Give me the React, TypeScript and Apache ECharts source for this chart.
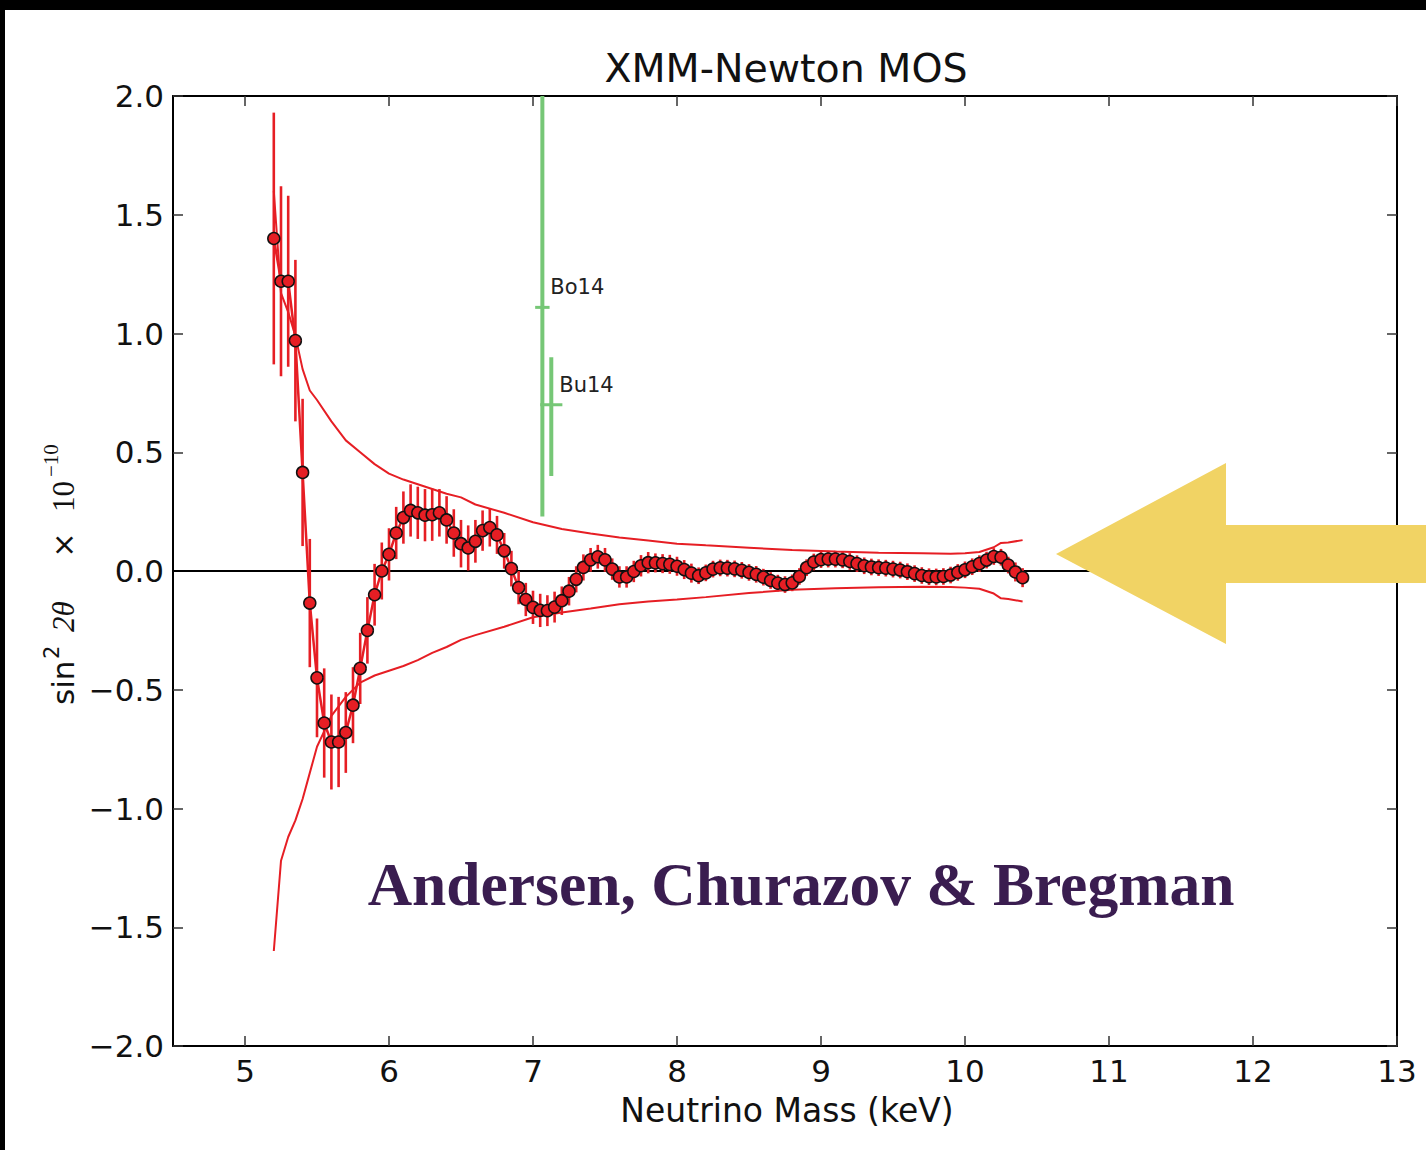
import React, { useEffect, useRef } from 'react';
import * as echarts from 'echarts';

// ---- data ----
const ENERGY = [
  5.20, 5.25, 5.30, 5.35, 5.40, 5.45, 5.50, 5.55, 5.60, 5.65,
  5.70, 5.75, 5.80, 5.85, 5.90, 5.95, 6.00, 6.05, 6.10, 6.15,
  6.20, 6.25, 6.30, 6.35, 6.40, 6.45, 6.50, 6.55, 6.60, 6.65,
  6.70, 6.75, 6.80, 6.85, 6.90, 6.95, 7.00, 7.05, 7.10, 7.15,
  7.20, 7.25, 7.30, 7.35, 7.40, 7.45, 7.50, 7.55, 7.60, 7.65,
  7.70, 7.75, 7.80, 7.85, 7.90, 7.95, 8.00, 8.05, 8.10, 8.15,
  8.20, 8.25, 8.30, 8.35, 8.40, 8.45, 8.50, 8.55, 8.60, 8.65,
  8.70, 8.75, 8.80, 8.85, 8.90, 8.95, 9.00, 9.05, 9.10, 9.15,
  9.20, 9.25, 9.30, 9.35, 9.40, 9.45, 9.50, 9.55, 9.60, 9.65,
  9.70, 9.75, 9.80, 9.85, 9.90, 9.95, 10.00, 10.05, 10.10, 10.15,
  10.20, 10.25, 10.30, 10.35, 10.40,
];
const SIGNAL = [
  1.40, 1.22, 1.22, 0.97, 0.415, -0.135, -0.45, -0.64, -0.72, -0.72,
  -0.68, -0.565, -0.41, -0.25, -0.10, 0.00, 0.07, 0.16, 0.225, 0.255,
  0.245, 0.235, 0.237, 0.245, 0.215, 0.16, 0.115, 0.097, 0.125, 0.17,
  0.183, 0.152, 0.085, 0.01, -0.07, -0.12, -0.153, -0.166, -0.167, -0.152,
  -0.125, -0.085, -0.035, 0.015, 0.047, 0.06, 0.047, 0.008, -0.025, -0.025,
  -0.002, 0.022, 0.035, 0.034, 0.031, 0.028, 0.02, 0.006, -0.009, -0.02,
  -0.008, 0.008, 0.013, 0.012, 0.009, 0.003, -0.006, -0.014, -0.026, -0.04,
  -0.051, -0.057, -0.05, -0.023, 0.014, 0.038, 0.048, 0.05, 0.05, 0.047,
  0.04, 0.031, 0.022, 0.017, 0.014, 0.012, 0.008, 0.004, -0.003, -0.011,
  -0.019, -0.024, -0.025, -0.023, -0.017, -0.006, 0.005, 0.018, 0.031, 0.046,
  0.061, 0.058, 0.025, -0.004, -0.028,
];
const SIGNAL_ERR = [
  0.53, 0.40, 0.36, 0.34, 0.31, 0.27, 0.25, 0.23, 0.20, 0.19,
  0.17, 0.16, 0.15, 0.14, 0.13, 0.12, 0.11, 0.11, 0.11, 0.11,
  0.11, 0.11, 0.11, 0.10, 0.10, 0.10, 0.10, 0.095, 0.09, 0.085,
  0.08, 0.08, 0.075, 0.075, 0.07, 0.07, 0.07, 0.07, 0.065, 0.065,
  0.06, 0.06, 0.055, 0.055, 0.05, 0.05, 0.05, 0.045, 0.045, 0.045,
  0.045, 0.045, 0.045, 0.04, 0.04, 0.04, 0.04, 0.04, 0.04, 0.035,
  0.035, 0.035, 0.035, 0.035, 0.035, 0.035, 0.035, 0.035, 0.035, 0.035,
  0.035, 0.035, 0.035, 0.035, 0.035, 0.035, 0.035, 0.035, 0.035, 0.035,
  0.035, 0.035, 0.035, 0.035, 0.035, 0.035, 0.035, 0.035, 0.035, 0.035,
  0.035, 0.035, 0.035, 0.035, 0.035, 0.035, 0.035, 0.035, 0.035, 0.035,
  0.035, 0.035, 0.035, 0.04, 0.04,
];
const ENV_ENERGY = [
  5.2, 5.25, 5.3, 5.35, 5.4, 5.45, 5.5, 5.6, 5.7, 5.8, 5.9, 6.0, 6.1, 6.2, 6.3, 6.4,
  6.5, 6.6, 6.8, 7.0, 7.2, 7.4, 7.6, 7.8, 8.0, 8.2, 8.5, 8.8, 9.1, 9.4, 9.7, 9.9,
  10.0, 10.1, 10.2, 10.25, 10.3, 10.4,
];
const ENV_UPPER = [
  1.60, 1.17, 1.09, 0.99, 0.85, 0.76, 0.72, 0.63, 0.55, 0.50, 0.45, 0.41, 0.385, 0.365, 0.345, 0.325,
  0.31, 0.28, 0.245, 0.205, 0.177, 0.158, 0.141, 0.128, 0.115, 0.108, 0.098, 0.088, 0.082, 0.077, 0.075, 0.073,
  0.075, 0.08, 0.10, 0.118, 0.12, 0.13,
];
const ENV_LOWER = [
  -1.60, -1.22, -1.12, -1.05, -0.96, -0.85, -0.74, -0.61, -0.53, -0.47, -0.44, -0.42, -0.40, -0.375, -0.345, -0.32,
  -0.29, -0.27, -0.235, -0.195, -0.175, -0.158, -0.14, -0.128, -0.12, -0.11, -0.093, -0.079, -0.073, -0.068, -0.066, -0.067,
  -0.07, -0.075, -0.095, -0.115, -0.118, -0.128,
];
const REF_NAMES = ['Bo14', 'Bu14'];
const REF_X = [7.065, 7.127];
const REF_XERR = [0.05, 0.077];
const REF_Y = [1.11, 0.70];
const REF_YLO = [0.23, 0.40];
const REF_YHI = [2.0, 0.90];

const X_TICKS = [5, 6, 7, 8, 9, 10, 11, 12, 13];
const X_MIN = 4.5;
const X_MAX = 13;
const Y_MIN = -2;
const Y_MAX = 2;
const Y_STEP = 0.5;

const TITLE = 'XMM-Newton MOS';
const X_NAME = 'Neutrino Mass (keV)';
const CREDIT = 'Andersen, Churazov & Bregman';

// ---- styles ----
const RED = '#e61e24';
const GREEN = '#76c776';
const SANS = '"DejaVu Sans", sans-serif';
const SERIF = '"Liberation Serif", serif';

function buildOption(): any {
  const axisBase = {
    type: 'value',
    min: X_MIN,
    max: X_MAX,
    splitLine: { show: false },
    axisLine: { show: true, onZero: false, lineStyle: { color: '#000', width: 2 } },
    axisTick: { show: true, inside: true, length: 10, customValues: X_TICKS, lineStyle: { color: '#333', width: 1.5 } },
  };
  const yBase = {
    type: 'value',
    min: Y_MIN,
    max: Y_MAX,
    interval: Y_STEP,
    splitLine: { show: false },
    axisLine: { show: true, onZero: false, lineStyle: { color: '#000', width: 2 } },
    axisTick: { show: true, inside: true, length: 10, lineStyle: { color: '#333', width: 1.5 } },
  };
  return {
    animation: false,
    backgroundColor: '#ffffff',
    grid: { left: 173, top: 96, width: 1224, height: 950, containLabel: false },
    xAxis: [
      {
        ...axisBase,
        position: 'bottom',
        axisLabel: {
          show: true, customValues: X_TICKS, margin: 9, fontSize: 31, color: '#111', fontFamily: SANS,
        },
      },
      { ...axisBase, position: 'top', axisLabel: { show: false } },
    ],
    yAxis: [
      {
        ...yBase,
        position: 'left',
        axisLabel: {
          show: true, margin: 9, fontSize: 31, color: '#111', fontFamily: SANS,
          formatter: (v: number) => (v < 0 ? '\u2212' : '') + Math.abs(v).toFixed(1),
        },
      },
      { ...yBase, position: 'right', axisLabel: { show: false } },
    ],
    series: [
      {
        type: 'line', name: 'zero', xAxisIndex: 0, yAxisIndex: 0, z: 1, silent: true,
        data: [[X_MIN, 0], [X_MAX, 0]], symbol: 'none',
        lineStyle: { color: '#000', width: 2 },
      },
      {
        type: 'line', name: 'upper', xAxisIndex: 0, yAxisIndex: 0, z: 2, silent: true,
        data: ENV_ENERGY.map((e, i) => [e, ENV_UPPER[i]]), symbol: 'none',
        lineStyle: { color: RED, width: 2 },
      },
      {
        type: 'line', name: 'lower', xAxisIndex: 0, yAxisIndex: 0, z: 2, silent: true,
        data: ENV_ENERGY.map((e, i) => [e, ENV_LOWER[i]]), symbol: 'none',
        lineStyle: { color: RED, width: 2 },
      },
      {
        type: 'custom', name: 'errors', xAxisIndex: 0, yAxisIndex: 0, z: 3, silent: true,
        data: ENERGY.map((e, i) => [e, SIGNAL[i] - SIGNAL_ERR[i], SIGNAL[i] + SIGNAL_ERR[i]]),
        encode: { x: 0, y: [1, 2] },
        renderItem: (params: any, api: any) => {
          const a = api.coord([api.value(0), api.value(1)]);
          const b = api.coord([api.value(0), api.value(2)]);
          return {
            type: 'line',
            shape: { x1: a[0], y1: a[1], x2: b[0], y2: b[1] },
            style: { stroke: RED, lineWidth: 2.6 },
          };
        },
      },
      {
        type: 'line', name: 'signal', xAxisIndex: 0, yAxisIndex: 0, z: 4, silent: true,
        data: ENERGY.map((e, i) => [e, SIGNAL[i]]),
        symbol: 'circle', symbolSize: 12, showSymbol: true,
        itemStyle: { color: RED, borderColor: '#111', borderWidth: 1.5 },
        lineStyle: { color: RED, width: 2.5 },
      },
      {
        type: 'custom', name: 'refs', xAxisIndex: 0, yAxisIndex: 0, z: 3, silent: true,
        data: REF_NAMES.map((n, i) => [REF_X[i], REF_Y[i], REF_XERR[i], REF_YLO[i], REF_YHI[i]]),
        encode: { x: 0, y: 1 },
        renderItem: (params: any, api: any) => {
          const x = api.value(0);
          const y = api.value(1);
          const xe = api.value(2);
          const c = api.coord([x, y]);
          const top = api.coord([x, api.value(4)]);
          const bot = api.coord([x, api.value(3)]);
          const l = api.coord([x - xe, y]);
          const r = api.coord([x + xe, y]);
          return {
            type: 'group',
            children: [
              { type: 'line', shape: { x1: top[0], y1: top[1], x2: bot[0], y2: bot[1] }, style: { stroke: GREEN, lineWidth: 4 } },
              { type: 'line', shape: { x1: l[0], y1: l[1], x2: r[0], y2: r[1] }, style: { stroke: GREEN, lineWidth: 3 } },
              {
                type: 'text', x: c[0] + 8, y: c[1] - 20,
                style: { text: REF_NAMES[params.dataIndex], fill: '#222', font: '21px ' + SANS, align: 'left', verticalAlign: 'middle' },
              },
            ],
          };
        },
      },
    ],
    graphic: [
      { type: 'rect', z: 100, shape: { x: 0, y: 0, width: 1426, height: 10 }, style: { fill: '#000' } },
      { type: 'rect', z: 100, shape: { x: 0, y: 0, width: 5, height: 1150 }, style: { fill: '#000' } },
      {
        type: 'text', z: 100, x: 786, y: 68,
        style: { text: TITLE, fill: '#111', font: '39.5px ' + SANS, align: 'center', verticalAlign: 'middle' },
      },
      {
        type: 'text', z: 100, x: 787, y: 1110,
        style: { text: X_NAME, fill: '#111', font: '33px ' + SANS, align: 'center', verticalAlign: 'middle' },
      },
      {
        type: 'group', z: 100, x: 63, y: 705, rotation: Math.PI / 2,
        children: [
          { type: 'text', x: 0, y: 0, style: { text: 'sin', fill: '#111', font: '31px ' + SANS, align: 'left', verticalAlign: 'middle' } },
          { type: 'text', x: 46, y: -11, style: { text: '2', fill: '#111', font: '21px ' + SANS, align: 'left', verticalAlign: 'middle' } },
          { type: 'text', x: 73, y: 0, style: { text: '2\u03b8', fill: '#111', font: 'italic 31px ' + SERIF, align: 'left', verticalAlign: 'middle' } },
          { type: 'text', x: 160, y: 0, style: { text: '\u00d7', fill: '#111', font: '30px ' + SANS, align: 'center', verticalAlign: 'middle' } },
          { type: 'text', x: 193, y: 0, style: { text: '10', fill: '#111', font: '31px ' + SERIF, align: 'left', verticalAlign: 'middle' } },
          { type: 'text', x: 228, y: -12, style: { text: '\u221210', fill: '#111', font: '21px ' + SERIF, align: 'left', verticalAlign: 'middle' } },
        ],
      },
      {
        type: 'text', z: 100, x: 801, y: 884,
        style: { text: CREDIT, fill: '#3a1d50', font: 'bold 61.5px ' + SERIF, align: 'center', verticalAlign: 'middle' },
      },
      {
        type: 'polygon', z: 100,
        shape: { points: [[1056, 554], [1226, 463], [1226, 525], [1426, 525], [1426, 583], [1226, 583], [1226, 644]] },
        style: { fill: '#f1d364' },
      },
    ],
  };
}

export default function App() {
  const ref = useRef<HTMLDivElement>(null);
  useEffect(() => {
    document.body.style.margin = '0';
    const chart = echarts.init(ref.current as HTMLDivElement, null, { renderer: 'svg' });
    chart.setOption(buildOption());
    return () => chart.dispose();
  }, []);
  return (
    <div
      ref={ref}
      style={{ position: 'absolute', left: 0, top: 0, width: 1426, height: 1150, background: '#fff' }}
    />
  );
}
